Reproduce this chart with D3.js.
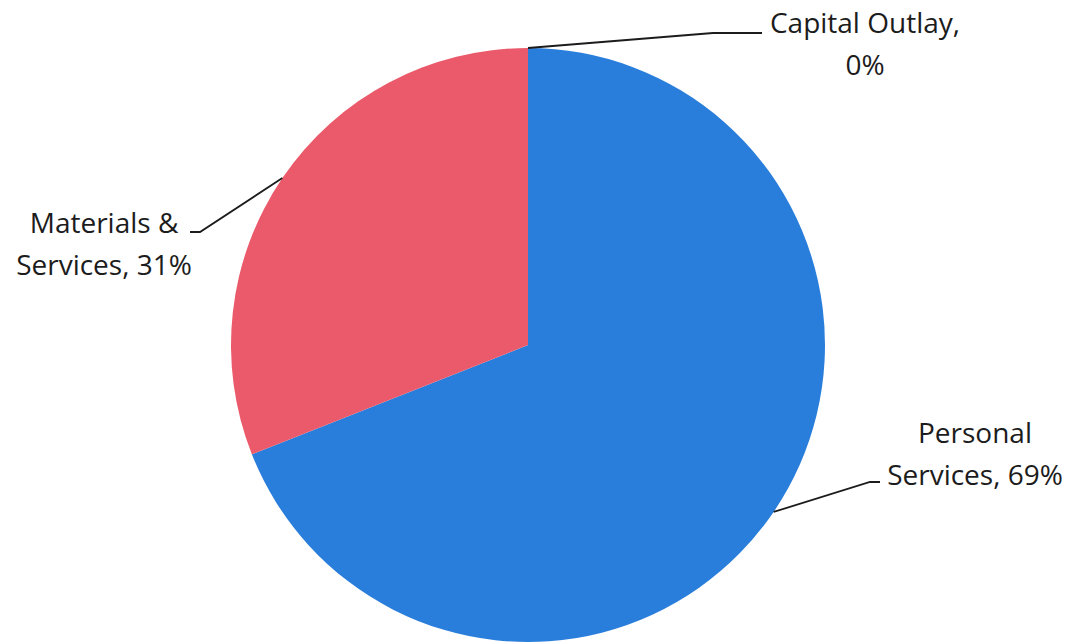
<!DOCTYPE html>
<html>
<head>
<meta charset="utf-8">
<script src="https://cdn.jsdelivr.net/npm/d3@7"></script>
<style>
  body { margin: 0; background: #fff; }
  .slice-label { font-family: "Open Sans", sans-serif; font-size: 28px; fill: #1c1c1c; }
</style>
</head>
<body>
<div id="chart"></div>
<script>
const categories = ["Personal Services", "Materials & Services", "Capital Outlay"];
const percentValues = [69, 31, 0];
const sliceColors = ["#2a7edb", "#eb5a6b", "#9aa0a6"];
// label lines as they are printed on the chart
const labelLines = [
    ["Personal", "Services, 69%"],
    ["Materials &", "Services, 31%"],
    ["Capital Outlay,", "0%"]
];

function createPieChart() {
    const width = 1073;
    const height = 644;
    const cx = 528;
    const cy = 345;
    const radius = 297;

    const svg = d3.select("#chart")
        .append("svg")
        .attr("width", width)
        .attr("height", height);

    const pieGroup = svg.append("g")
        .attr("transform", `translate(${cx}, ${cy})`);

    const pie = d3.pie()
        .value(d => d)
        .sort(null);

    const arc = d3.arc()
        .innerRadius(0)
        .outerRadius(radius);

    const arcs = pie(percentValues);

    pieGroup.selectAll("path")
        .data(arcs)
        .enter()
        .append("path")
        .attr("d", arc)
        .attr("fill", (d, i) => sliceColors[i]);

    // label block placement relative to the pie centre, plus leader elbow
    const labelSpots = [
        { x: 447, y: 98, elbow: 342, end: 352, lineY: 137 },
        { x: -424, y: -112, elbow: -328, end: -338, lineY: -113 },
        { x: 337, y: -312, elbow: 185, end: 234, lineY: -312 }
    ];
    const lineGap = 42;

    const edgePoint = d => {
        const a = (d.startAngle + d.endAngle) / 2;
        return [Math.sin(a) * radius, -Math.cos(a) * radius];
    };

    arcs.forEach((d, i) => {
        const spot = labelSpots[i];
        const [ex, ey] = edgePoint(d);

        pieGroup.append("path")
            .attr("d", d3.line()([[ex, ey], [spot.elbow, spot.lineY], [spot.end, spot.lineY]]))
            .attr("fill", "none")
            .attr("stroke", "#1c1c1c")
            .attr("stroke-width", 1.8);

        const text = pieGroup.append("text")
            .attr("class", "slice-label")
            .attr("text-anchor", "middle");

        labelLines[i].forEach((line, j) => {
            text.append("tspan")
                .attr("x", spot.x)
                .attr("y", spot.y + j * lineGap)
                .text(line);
        });
    });
}

createPieChart();
</script>
</body>
</html>
